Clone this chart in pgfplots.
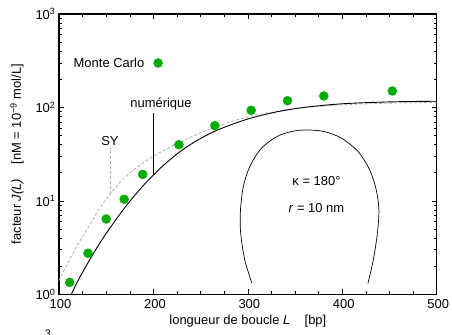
\documentclass[border=0pt]{standalone}
\usepackage{fontspec}
\setmainfont{Liberation Sans}
\usepackage{pgfplots}
\pgfplotsset{compat=1.18}

\definecolor{mcgreen}{RGB}{0,172,0}
\definecolor{sygray}{RGB}{175,175,175}

\begin{document}
\begin{tikzpicture}[font=\fontsize{13}{15}\selectfont]
\begin{axis}[
  name=ax,
  scale only axis,
  width=377.7bp, height=280.3bp,
  xmin=100, xmax=500,
  ymode=log, ymin=1, ymax=1000,
  xtick={100,200,300,400,500},
  xticklabels={100,200,300,400,500},
  minor x tick num=3,
  ytick={1,10,100,1000},
  yticklabels={10\textsuperscript{0},10\textsuperscript{1},10\textsuperscript{2},10\textsuperscript{3}},
  /pgf/number format/assume math mode=true,
  tick label style={font=\fontsize{13}{15}\selectfont},
  xticklabel style={yshift=-3.5bp, xshift=1.5bp, inner ysep=1pt},
  tick align=inside,
  major tick length=5bp,
  minor tick length=3bp,
  axis line style={line width=1.1pt},
  every tick/.style={black, line width=0.6pt},
  xlabel={longueur de boucle \textit{L}\hspace{1.1em}[bp]},
  ylabel={facteur \textit{J(L)}\hspace{1.1em}[nM = 10\textsuperscript{−9} mol/L]},
  xlabel style={at={([yshift=-26.5bp]rel axis cs:0.5,0)}, anchor=center, inner ysep=1pt},
  ylabel style={at={([xshift=-42bp]rel axis cs:0,0.5)}, anchor=center},
  clip=true,
]
% Shimada-Yamakawa approximation
\addplot[sygray, line width=0.8pt, dash pattern=on 3pt off 2pt, smooth] coordinates {
  (100,1.40) (110,2.23) (120,3.44) (130,5.0) (140,7.43) (150,10.4) (160,14.0)
  (170,17.9) (180,21.9) (200,30.1) (230,43.4) (260,58.9) (300,79.4)
  (350,97.2) (400,106.5) (450,111) (500,113)};
% numerical solution
\addplot[black, line width=0.9pt, smooth] coordinates {
  (113,1.0) (120,1.39) (130,2.12) (140,3.13) (150,4.49) (170,8.55) (190,14.86)
  (210,23.7) (230,34.7) (250,46.6) (270,58.5) (300,75.2) (330,89.4)
  (360,100.2) (400,109.4) (450,114.6) (500,116.5)};
% pointers to the curves
\addplot[sygray, line width=0.8pt, dash pattern=on 3pt off 2pt] coordinates {(154,11.8) (154,37)};
\addplot[black, line width=0.8pt] coordinates {(200,18.9) (200,88)};
% Monte Carlo results
\addplot[only marks, mark=*, mark size=4.5bp, mcgreen,
  mark options={draw=mcgreen, fill=mcgreen}] coordinates {
  (111.3,1.34) (130.7,2.75) (150,6.4) (169,10.4) (188.6,19.2) (227,39.9)
  (265,63.8) (303.5,93.2) (342,118) (380.5,132.6) (453,150)};
\addplot[only marks, mark=*, mark size=4.5bp, mcgreen,
  mark options={draw=mcgreen, fill=mcgreen}] coordinates {(205,299)};
% loop sketch
\addplot[black, line width=0.7pt, smooth] coordinates {
  (304.4,1.31) (296.8,2.32) (292.4,4.51) (292.2,8.0) (295.2,14.2) (302,23.2)
  (314.4,36.6) (332,49.5) (349.6,56.1) (365.6,57.3) (381.6,55) (399.2,46.9)
  (416.8,33.7) (429.2,21.3) (436,13.1) (438.8,8.0) (437.2,4.51) (432.8,2.32)
  (427.2,1.31)};
\node[anchor=east, inner sep=0pt] at (axis cs:190.5,299) {Monte Carlo};
\node at (axis cs:208,109) {numérique};
\node at (axis cs:154,44) {SY};
\node at (axis cs:372.7,16.3) {κ = 180°};
\node at (axis cs:372.7,8.3) {\textit{r} = 10 nm};
\end{axis}
\node[anchor=north, inner sep=0pt, font=\fontsize{11}{12}\selectfont]
  at ([xshift=-11bp,yshift=-35.5bp]ax.south west) {3};
\pgfresetboundingbox
\path ([xshift=-59bp,yshift=-40.7bp]ax.south west) rectangle ([xshift=15.3bp,yshift=14bp]ax.north east);
\end{tikzpicture}
\end{document}
